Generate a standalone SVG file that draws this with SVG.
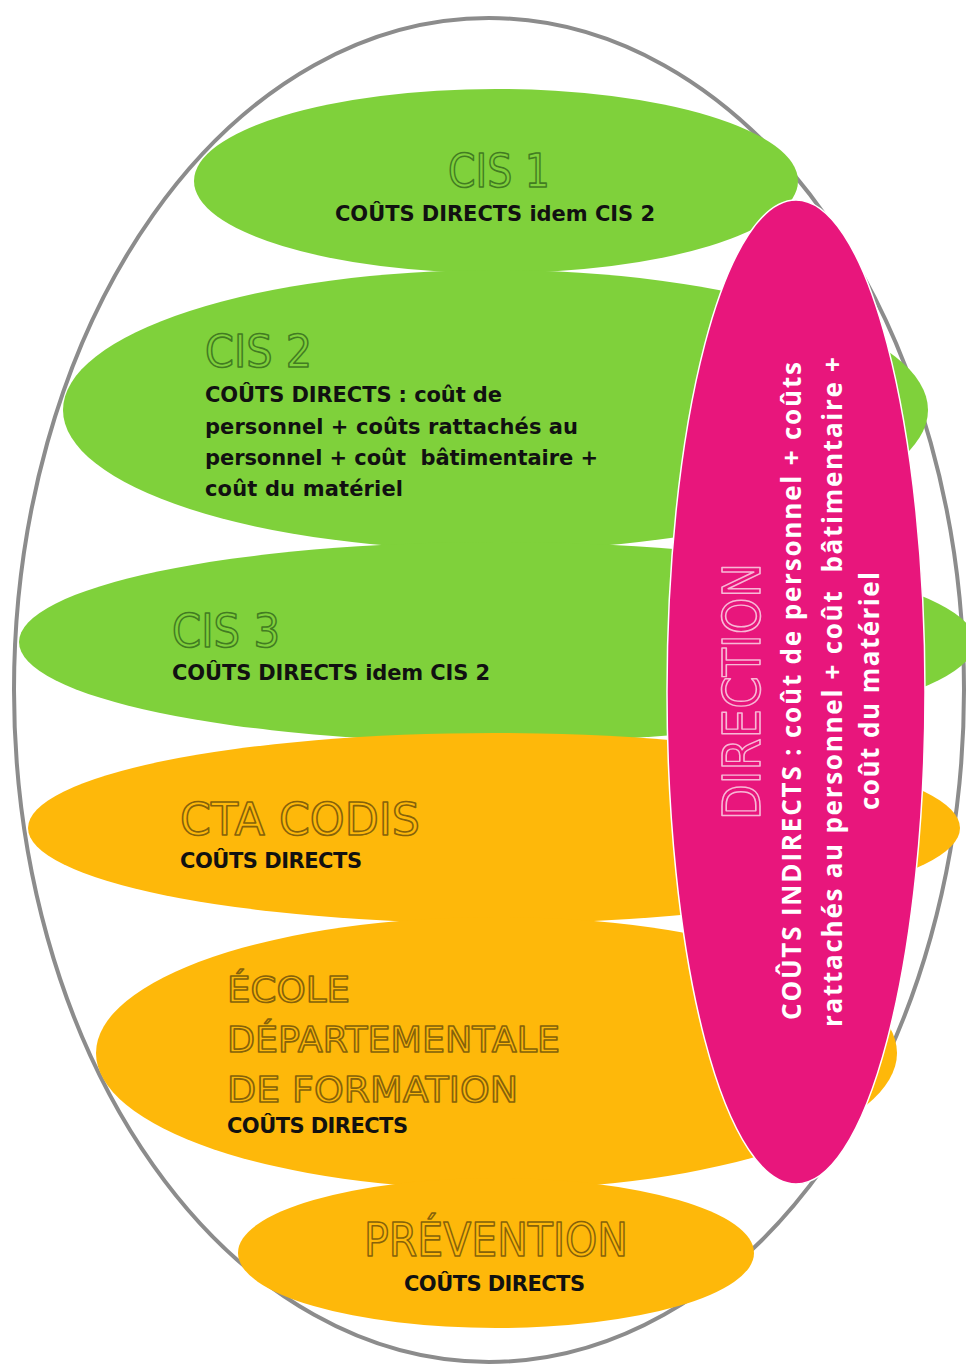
<svg xmlns="http://www.w3.org/2000/svg" width="966" height="1367" viewBox="0 0 966 1367">
<style>
.green{fill:#7fd13b}
.orange{fill:#feb80a}
.pink{fill:#e8167c;stroke:#ffffff;stroke-width:1.5}
.ttl{font-family:"DejaVu Sans",sans-serif;font-weight:normal;stroke-width:1.6;stroke-linejoin:round}
.tg{fill:#7fd13b;stroke:#427c22}
.to{fill:#feb80a;stroke:#86620a}
.tp{fill:#e8167c;stroke:#f8b8d6}
.body{font-family:"DejaVu Sans",sans-serif;font-weight:bold;font-size:21px;fill:#111111}
.wb{font-family:"Open Sans","DejaVu Sans",sans-serif;font-weight:700;font-size:26px;fill:#ffffff}
</style>
<rect width="966" height="1367" fill="#ffffff"/>
<g id="outer">
<ellipse cx="489" cy="690" rx="475" ry="672" fill="#ffffff" stroke="#8c8c8c" stroke-width="4"/>
</g>
<g id="connectors"/>
<g id="cis1">
<ellipse class="green" cx="496" cy="181" rx="302" ry="92"/>
<text class="ttl tg" x="448" y="187" font-size="46" textLength="102" lengthAdjust="spacingAndGlyphs">CIS 1</text>
<text class="body" x="335" y="221" textLength="320">COÛTS DIRECTS idem CIS 2</text>
</g>
<g id="cis2">
<ellipse class="green" cx="495.5" cy="410" rx="432.5" ry="140"/>
<text class="ttl tg" x="205" y="367" font-size="44" textLength="107" lengthAdjust="spacingAndGlyphs">CIS 2</text>
<text class="body" x="205" y="402" textLength="297">COÛTS DIRECTS : coût de</text>
<text class="body" x="205" y="434" textLength="373">personnel + coûts rattachés au</text>
<text class="body" x="205" y="465" textLength="393" xml:space="preserve">personnel + coût  bâtimentaire +</text>
<text class="body" x="205" y="496" textLength="198">coût du matériel</text>
</g>
<g id="cis3">
<ellipse class="green" cx="497" cy="642" rx="478" ry="100"/>
<text class="ttl tg" x="172" y="647" font-size="46" textLength="108" lengthAdjust="spacingAndGlyphs">CIS 3</text>
<text class="body" x="172" y="680" textLength="318">COÛTS DIRECTS idem CIS 2</text>
</g>
<g id="cta-codis">
<ellipse class="orange" cx="494" cy="828" rx="466" ry="95"/>
<text class="ttl to" x="180" y="835" font-size="45" textLength="240" lengthAdjust="spacingAndGlyphs">CTA CODIS</text>
<text class="body" x="180" y="868" textLength="182">COÛTS DIRECTS</text>
</g>
<g id="ecole">
<ellipse class="orange" cx="496.5" cy="1053" rx="400.5" ry="136"/>
<text class="ttl to" x="227" y="1002" font-size="36" textLength="123" lengthAdjust="spacingAndGlyphs">ÉCOLE</text>
<text class="ttl to" x="227" y="1052" font-size="36" textLength="333" lengthAdjust="spacingAndGlyphs">DÉPARTEMENTALE</text>
<text class="ttl to" x="227" y="1102" font-size="36" textLength="291" lengthAdjust="spacingAndGlyphs">DE FORMATION</text>
<text class="body" x="227" y="1133" textLength="181">COÛTS DIRECTS</text>
</g>
<g id="prevention">
<ellipse class="orange" cx="496" cy="1253" rx="258" ry="75"/>
<text class="ttl to" x="364" y="1256" font-size="46" textLength="264" lengthAdjust="spacingAndGlyphs">PRÉVENTION</text>
<text class="body" x="404" y="1291" textLength="181">COÛTS DIRECTS</text>
</g>
<g id="direction">
<ellipse class="pink" cx="796" cy="692" rx="129" ry="492"/>
<text class="ttl tp" transform="translate(760,691.5) rotate(-90)" text-anchor="middle" font-size="52" textLength="257" lengthAdjust="spacingAndGlyphs">DIRECTION</text>
<text class="wb" transform="translate(801,691) rotate(-90)" text-anchor="middle" textLength="658">COÛTS INDIRECTS : coût de personnel + coûts</text>
<text class="wb" transform="translate(842,692) rotate(-90)" text-anchor="middle" textLength="670" xml:space="preserve">rattachés au personnel + coût  bâtimentaire +</text>
<text class="wb" transform="translate(879,691) rotate(-90)" text-anchor="middle" textLength="238">coût du matériel</text>
</g>
</svg>
